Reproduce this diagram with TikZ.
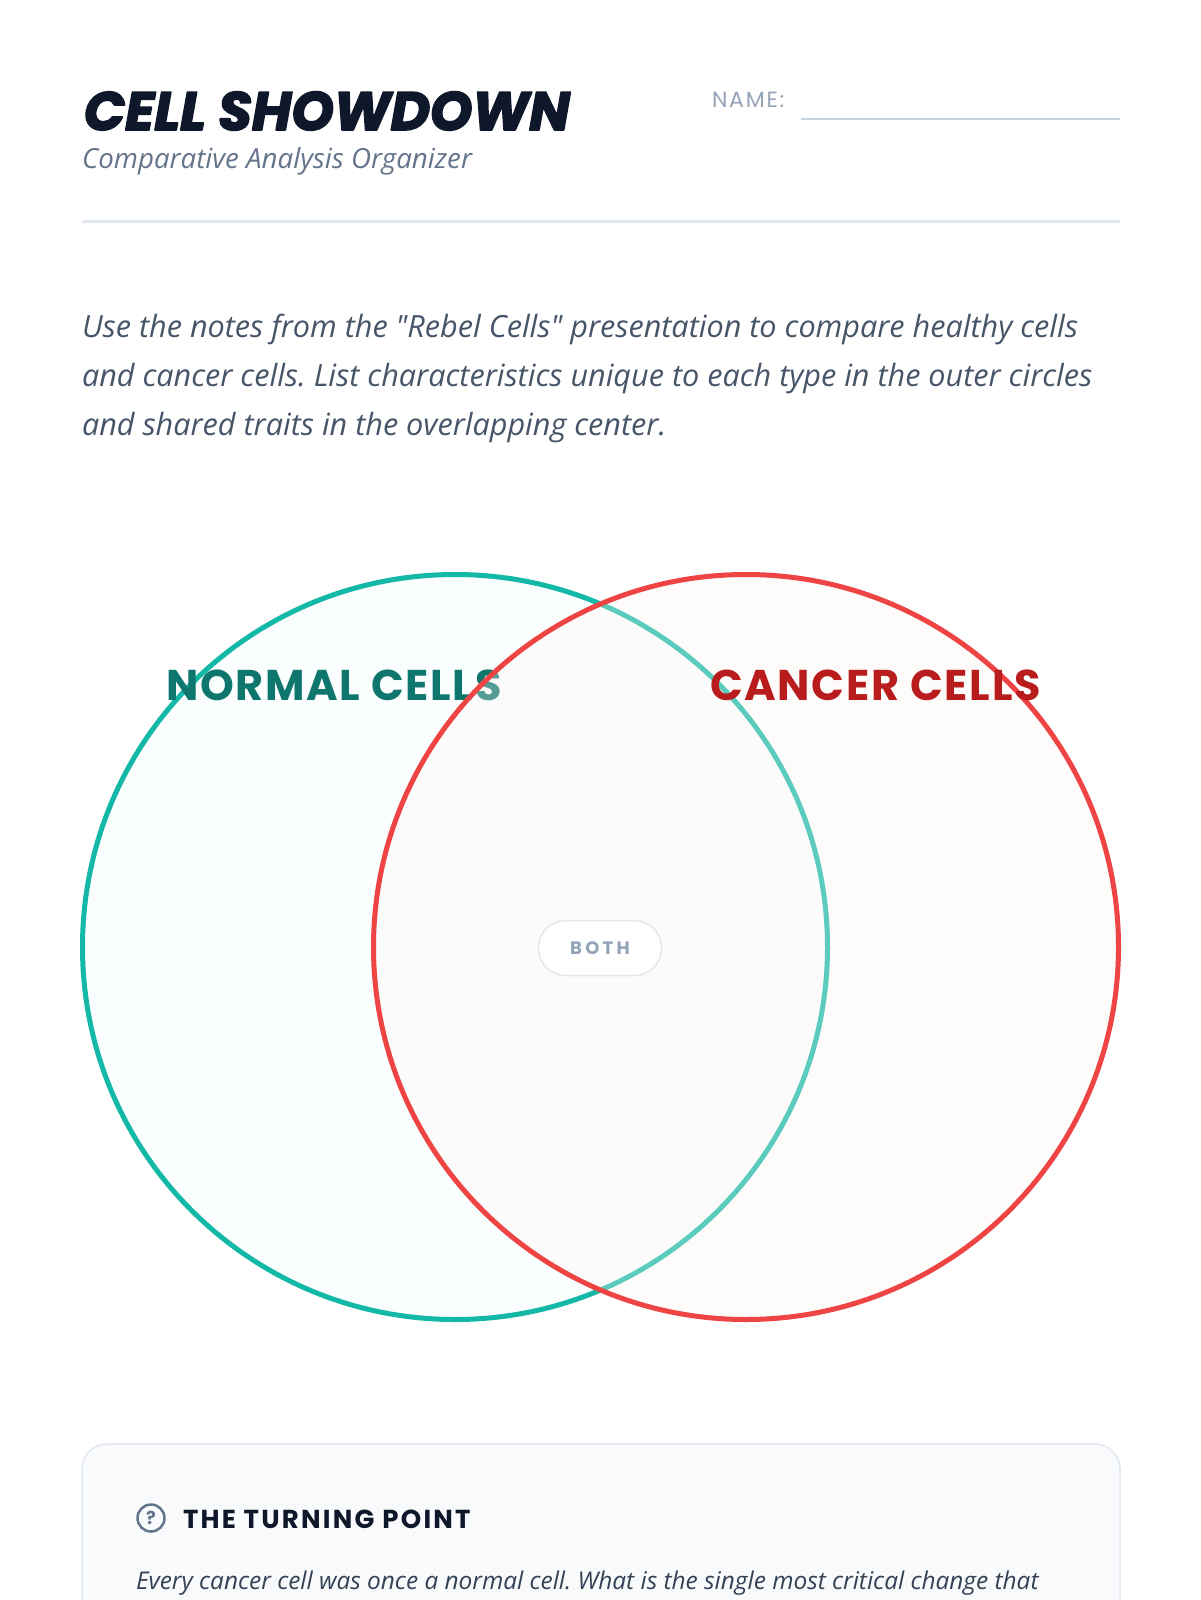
\documentclass[tikz,border=0pt]{standalone}
\usepackage{fontspec}
\setmainfont{Open Sans}
\newfontfamily\bodyfont{Open Sans}
\newfontfamily\headfont{Poppins}
\newfontfamily\titlefont{Poppins}[BoldItalicFeatures={FakeBold=3}]
\definecolor{ink}{HTML}{0F172A}
\definecolor{slate}{HTML}{64748B}
\definecolor{slatetext}{HTML}{475569}
\definecolor{cardtext}{HTML}{334155}
\definecolor{mist}{HTML}{94A3B8}
\definecolor{rulegrey}{HTML}{E2E8F0}
\definecolor{lineblue}{HTML}{CBD5E1}
\definecolor{cardfill}{HTML}{F8FAFC}
\definecolor{tealc}{HTML}{14B8A6}
\definecolor{tealdark}{HTML}{0F766E}
\definecolor{redc}{HTML}{EF4444}
\definecolor{reddark}{HTML}{B91C1C}
\definecolor{warmwash}{RGB}{252,247,245}
\frenchspacing
\begin{document}
\begin{tikzpicture}[x=1pt,y=-1pt,line join=round,line cap=round,
  every node/.style={inner sep=0pt,outer sep=0pt},
  txt/.style={anchor=base west},
  setname/.style={txt,font=\headfont\bfseries\fontsize{43}{43}\selectfont\addfontfeatures{LetterSpace=4}},
  para/.style={txt,text=slatetext,font=\bodyfont\itshape\fontsize{30.6}{30.6}\selectfont}]
\useasboundingbox[fill=white] (0,0) rectangle (1200,1600);
% heading
\path (84,130) node[txt,text=ink,font=\titlefont\bfseries\itshape\fontsize{54}{54}\selectfont] (title) {CELL SHOWDOWN}
(82,168) node[txt,text=slate,font=\bodyfont\itshape\fontsize{27.7}{27.7}\selectfont] (sub) {Comparative Analysis Organizer}
(712,108) node[txt,text=mist,font=\headfont\fontsize{22}{22}\selectfont\addfontfeatures{LetterSpace=8}] (name) {NAME:};
\coordinate (n1) at (801,119.5);
\coordinate (n2) at (1120,119.5);
\draw[lineblue,line width=2pt,line cap=butt] (n1)--(n2);
\draw[rulegrey,line width=3pt,line cap=butt] (82,221)--(1120,221);
% instructions
\path (82,337) node[para] (p1) {Use the notes from the "Rebel Cells" presentation to compare healthy cells}
++(0,49) node[para] (p2) {and cancer cells. List characteristics unique to each type in the outer circles}
++(0,49) node[para] (p3) {and shared traits in the overlapping center.};
% venn
\def\r{372.5}
\draw[tealc,line width=5pt,fill=tealc!1.5] (455,947) circle[radius=\r];
\node[setname,text=tealdark] (normal) at (166,700) {NORMAL CELLS};
\draw[redc,line width=5pt,fill=warmwash,fill opacity=.3] (746,947) circle[radius=\r];
\node[setname,text=reddark] (cancer) at (710,700) {CANCER CELLS};
\node[draw=rulegrey,line width=1.5pt,fill=white,rounded corners=27pt,minimum width=123pt,minimum height=55pt,
  text=mist,font=\headfont\bfseries\fontsize{18}{18}\selectfont\addfontfeatures{LetterSpace=18}] (both) at (600,948) {BOTH};
% card
\draw[rulegrey,line width=1.5pt,fill=cardfill,rounded corners=25pt] (82,1444) rectangle (1120,1660);
\node[circle,draw=slate,line width=2.5pt,minimum size=27pt,text=slate,font=\headfont\bfseries\fontsize{18}{18}\selectfont] (q) at (151,1518) {?};
\path (183,1528) node[txt,text=ink,font=\headfont\bfseries\fontsize{26}{26}\selectfont\addfontfeatures{LetterSpace=8.7}] (turn) {THE TURNING POINT}
(136,1589) node[txt,text=cardtext,font=\bodyfont\itshape\fontsize{24.4}{24.4}\selectfont] (ask) {Every cancer cell was once a normal cell. What is the single most critical change that};
\end{tikzpicture}
\end{document}
